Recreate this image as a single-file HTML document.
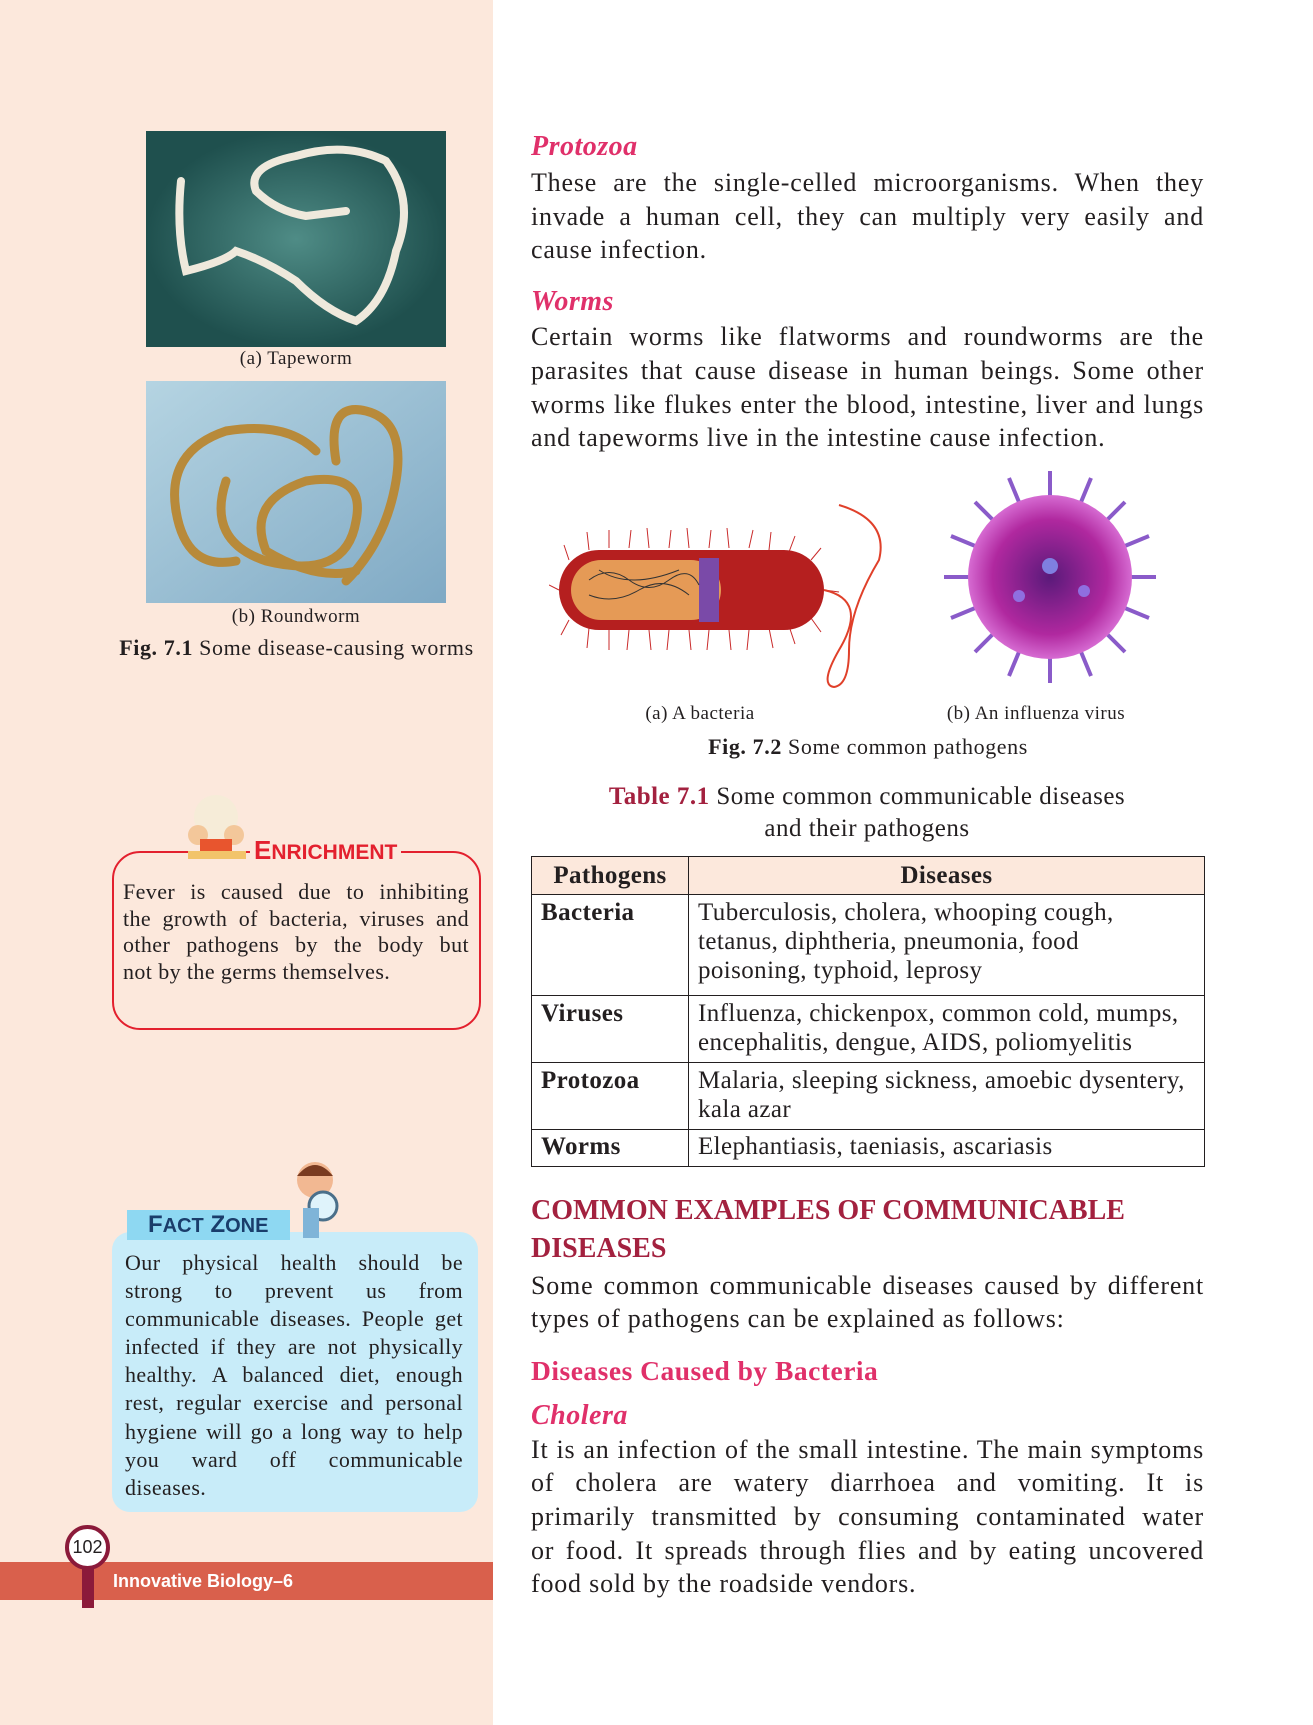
<!DOCTYPE html>
<html><head><meta charset="utf-8"><style>
*{margin:0;padding:0;box-sizing:border-box}
body{width:1313px;height:1725px;position:relative;background:#fff;font-family:"Liberation Serif",serif;color:#231f20;overflow:hidden}
.a{position:absolute}
.ln{position:absolute;white-space:nowrap;font-size:26px;line-height:28px;letter-spacing:0.8px}
.j{text-align:justify;text-align-last:justify}
.h{font-weight:bold;font-style:italic;color:#e0306a;font-size:28px;letter-spacing:0.5px}
.cap{font-size:19px;line-height:20px;text-align:center;letter-spacing:0.5px}
.bl{position:absolute;white-space:nowrap;font-size:22px;line-height:24px;letter-spacing:0.4px}
td{border:1.5px solid #231f20;vertical-align:top;font-size:25px;line-height:29px;padding:3px 9px;letter-spacing:0.4px}
</style></head><body>
<div class="a" style="left:0;top:0;width:493px;height:1725px;background:#fce8dc"></div>

<svg class="a" style="left:146px;top:131px" width="300" height="216">
<defs><radialGradient id="g1"><stop offset="0" stop-color="#4f8c86"/><stop offset="1" stop-color="#1f504e"/></radialGradient></defs>
<rect width="300" height="216" fill="url(#g1)"/>
<path d="M35 50 Q30 100 40 140 Q80 130 90 120 Q120 130 150 150 Q180 180 210 190 Q240 170 250 120 Q270 70 240 30 Q200 10 150 25 Q100 35 110 60 Q130 80 160 85 Q200 80 200 80" fill="none" stroke="#efe9dc" stroke-width="8" stroke-linecap="round"/></svg>
<div class="a cap" style="left:146px;top:349px;width:300px">(a) Tapeworm</div>

<svg class="a" style="left:146px;top:381px" width="300" height="222">
<defs><linearGradient id="g2" x1="0" y1="0" x2="1" y2="1"><stop offset="0" stop-color="#b5d4e2"/><stop offset="1" stop-color="#7fa9c4"/></linearGradient></defs>
<rect width="300" height="222" fill="url(#g2)"/>
<g fill="none" stroke="#b88a3a" stroke-width="9" stroke-linecap="round">
<path d="M30 130 Q20 70 80 50 Q140 40 170 70"/>
<path d="M80 100 Q60 160 120 180 Q200 200 210 140 Q220 90 160 100 Q100 120 120 170 Q170 200 210 190"/>
<path d="M190 80 Q180 20 220 30 Q260 40 250 100 Q240 160 200 200"/>
<path d="M30 130 Q40 190 90 180"/></g></svg>
<div class="a cap" style="left:146px;top:607px;width:300px">(b) Roundworm</div>
<div class="a" style="left:100px;top:635px;width:393px;text-align:center;font-size:22px;letter-spacing:0.6px"><b>Fig. 7.1</b> Some disease-causing worms</div>

<div class="a" style="left:112px;top:851px;width:369px;height:179px;border:2px solid #e3202e;border-radius:28px"></div>
<svg class="a" style="left:180px;top:793px" width="72" height="68"><circle cx="36" cy="24" r="22" fill="#f6ecd8"/><circle cx="18" cy="42" r="10" fill="#f3c79a"/><circle cx="54" cy="42" r="10" fill="#f3c79a"/><rect x="20" y="46" width="32" height="14" fill="#e8552e"/><rect x="8" y="58" width="58" height="8" fill="#f2c46a"/></svg>
<div class="a" style="left:250px;top:836px;background:#fce8dc;padding:0 4px;font-family:'Liberation Sans',sans-serif;font-weight:bold;color:#e3202e;font-size:26px;line-height:28px">E<span style="font-size:21px">NRICHMENT</span></div>
<div class="bl j" style="left:123px;top:880px;width:346px">Fever is caused due to inhibiting</div>
<div class="bl j" style="left:123px;top:907px;width:346px">the growth of bacteria, viruses and</div>
<div class="bl j" style="left:123px;top:933px;width:346px">other pathogens by the body but</div>
<div class="bl" style="left:123px;top:960px">not by the germs themselves.</div>

<div class="a" style="left:112px;top:1232px;width:366px;height:280px;background:#c8ecf9;border-radius:18px"></div>
<div class="a" style="left:127px;top:1210px;width:163px;height:30px;background:#8ed8f2;font-family:'Liberation Sans',sans-serif;font-weight:bold;color:#1a3d6b;font-size:24px;line-height:30px;padding-left:21px">F<span style="font-size:20px">ACT</span> Z<span style="font-size:20px">ONE</span></div>
<svg class="a" style="left:285px;top:1158px" width="60" height="90"><circle cx="30" cy="22" r="18" fill="#f2b892"/><path d="M12 18 Q30 -4 48 18" fill="#7a3b20"/><circle cx="38" cy="48" r="14" fill="#dff3fb" stroke="#4a6f8a" stroke-width="3"/><rect x="18" y="50" width="16" height="30" fill="#7fb4d8"/></svg>
<div class="bl j" style="left:125px;top:1251px;width:338px">Our physical health should be</div>
<div class="bl j" style="left:125px;top:1279px;width:338px">strong to prevent us from</div>
<div class="bl j" style="left:125px;top:1307px;width:338px">communicable diseases. People get</div>
<div class="bl j" style="left:125px;top:1335px;width:338px">infected if they are not physically</div>
<div class="bl j" style="left:125px;top:1363px;width:338px">healthy. A balanced diet, enough</div>
<div class="bl j" style="left:125px;top:1391px;width:338px">rest, regular exercise and personal</div>
<div class="bl j" style="left:125px;top:1420px;width:338px">hygiene will go a long way to help</div>
<div class="bl j" style="left:125px;top:1448px;width:338px">you ward off communicable</div>
<div class="bl" style="left:125px;top:1476px">diseases.</div>

<div class="a" style="left:0;top:1562px;width:493px;height:38px;background:#d9604c"></div>
<div class="a" style="left:82px;top:1566px;width:12px;height:42px;background:#8b1a3a"></div>
<div class="a" style="left:65px;top:1525px;width:45px;height:45px;border-radius:50%;background:#fff;border:4px solid #8b1a3a;text-align:center;line-height:37px;font-family:'Liberation Sans',sans-serif;font-size:18px">102</div>
<div class="a" style="left:113px;top:1570px;color:#fff;font-family:'Liberation Sans',sans-serif;font-weight:bold;font-size:18px;line-height:22px">Innovative Biology–6</div>

<div class="ln h" style="left:531px;top:133px">Protozoa</div>
<div class="ln j" style="left:531px;top:169px;width:673px">These are the single-celled microorganisms. When they</div>
<div class="ln j" style="left:531px;top:203px;width:673px">invade a human cell, they can multiply very easily and</div>
<div class="ln" style="left:531px;top:236px">cause infection.</div>
<div class="ln h" style="left:531px;top:288px">Worms</div>
<div class="ln j" style="left:531px;top:323px;width:673px">Certain worms like flatworms and roundworms are the</div>
<div class="ln j" style="left:531px;top:357px;width:673px">parasites that cause disease in human beings. Some other</div>
<div class="ln j" style="left:531px;top:391px;width:673px">worms like flukes enter the blood, intestine, liver and lungs</div>
<div class="ln" style="left:531px;top:424px">and tapeworms live in the intestine cause infection.</div>

<svg class="a" style="left:549px;top:500px" width="340" height="190">
<g stroke="#c92a2a" stroke-width="1"><path d="M10 90 L0 85 M20 60 L15 45 M40 50 L38 32 M60 48 L60 30 M80 48 L82 30 M100 48 L98 28 M120 48 L122 30 M140 48 L138 28 M160 48 L162 30 M180 48 L178 28 M200 48 L204 30 M220 50 L222 32 M240 52 L246 36 M262 60 L272 48 M275 90 L290 92 M20 120 L12 135 M40 128 L38 148 M60 130 L60 150 M80 130 L78 150 M100 130 L102 150 M120 130 L118 150 M140 130 L142 150 M160 130 L158 150 M180 130 L182 150 M200 130 L198 150 M220 128 L224 148 M240 126 L246 144 M262 118 L272 132"/></g>
<rect x="10" y="50" width="265" height="80" rx="40" fill="#b51f1f"/>
<rect x="22" y="60" width="150" height="60" rx="30" fill="#e59a56"/>
<rect x="150" y="58" width="20" height="64" fill="#7a4aa8"/>
<path d="M40 80 q20 -15 40 0 t40 0 t30 5 M40 95 q25 10 50 -5 t50 5 M50 70 q30 20 80 0" stroke="#333" fill="none"/>
<path d="M275 90 Q320 100 290 150 Q270 185 285 187 Q300 185 300 150 Q300 110 330 60 Q340 20 290 5" stroke="#e0402a" stroke-width="2" fill="none"/></svg>
<svg class="a" style="left:939px;top:466px" width="222" height="222">
<defs><radialGradient id="gv"><stop offset="0" stop-color="#5a1a7a"/><stop offset="0.7" stop-color="#b0289f"/><stop offset="1" stop-color="#d66bd2"/></radialGradient></defs>
<g stroke="#8a5bc9" stroke-width="4"><path d="M111 5 V217 M5 111 H217 M36 36 L186 186 M186 36 L36 186 M70 12 L152 210 M152 12 L70 210 M12 70 L210 152 M12 152 L210 70"/></g>
<circle cx="111" cy="111" r="82" fill="url(#gv)"/><circle cx="111" cy="100" r="8" fill="#7f7fe0"/><circle cx="80" cy="130" r="6" fill="#8f6fe0"/><circle cx="145" cy="125" r="6" fill="#8f6fe0"/></svg>
<div class="a cap" style="left:600px;top:704px;width:200px">(a) A bacteria</div>
<div class="a cap" style="left:905px;top:704px;width:262px">(b) An influenza virus</div>
<div class="a" style="left:570px;top:735px;width:596px;text-align:center;font-size:22px;line-height:24px;letter-spacing:0.6px"><b>Fig. 7.2</b> Some common pathogens</div>

<div class="a" style="left:540px;top:781px;width:654px;text-align:center;font-size:25px;line-height:32px;letter-spacing:0.5px"><b style="color:#a3213f">Table 7.1</b> Some common communicable diseases<br>and their pathogens</div>
<table class="a" style="left:531px;top:856px;width:674px;border-collapse:collapse;table-layout:fixed">
<tr style="height:38px;background:#fce8dc"><td style="width:157px;font-weight:bold;text-align:center;vertical-align:middle;padding:0">Pathogens</td><td style="font-weight:bold;text-align:center;vertical-align:middle;padding:0">Diseases</td></tr>
<tr style="height:101px"><td><b>Bacteria</b></td><td>Tuberculosis, cholera, whooping cough,<br>tetanus, diphtheria, pneumonia, food<br>poisoning, typhoid, leprosy</td></tr>
<tr style="height:67px"><td><b>Viruses</b></td><td>Influenza, chickenpox, common cold, mumps,<br>encephalitis, dengue, AIDS, poliomyelitis</td></tr>
<tr style="height:67px"><td><b>Protozoa</b></td><td>Malaria, sleeping sickness, amoebic dysentery,<br>kala azar</td></tr>
<tr style="height:37px"><td style="padding-top:2px"><b>Worms</b></td><td style="padding-top:2px">Elephantiasis, taeniasis, ascariasis</td></tr>
</table>

<div class="a" style="left:531px;top:1192px;font-weight:bold;color:#a3213f;font-size:28px;line-height:38px">COMMON EXAMPLES OF COMMUNICABLE<br>DISEASES</div>
<div class="ln j" style="left:531px;top:1272px;width:673px">Some common communicable diseases caused by different</div>
<div class="ln" style="left:531px;top:1305px">types of pathogens can be explained as follows:</div>
<div class="ln" style="left:531px;top:1357px;font-weight:bold;color:#e0306a;font-size:27.5px;letter-spacing:0.5px">Diseases Caused by Bacteria</div>
<div class="ln h" style="left:531px;top:1402px">Cholera</div>
<div class="ln j" style="left:531px;top:1436px;width:673px">It is an infection of the small intestine. The main symptoms</div>
<div class="ln j" style="left:531px;top:1469px;width:673px">of cholera are watery diarrhoea and vomiting. It is</div>
<div class="ln j" style="left:531px;top:1503px;width:673px">primarily transmitted by consuming contaminated water</div>
<div class="ln j" style="left:531px;top:1537px;width:673px">or food. It spreads through flies and by eating uncovered</div>
<div class="ln" style="left:531px;top:1570px">food sold by the roadside vendors.</div>
</body></html>
